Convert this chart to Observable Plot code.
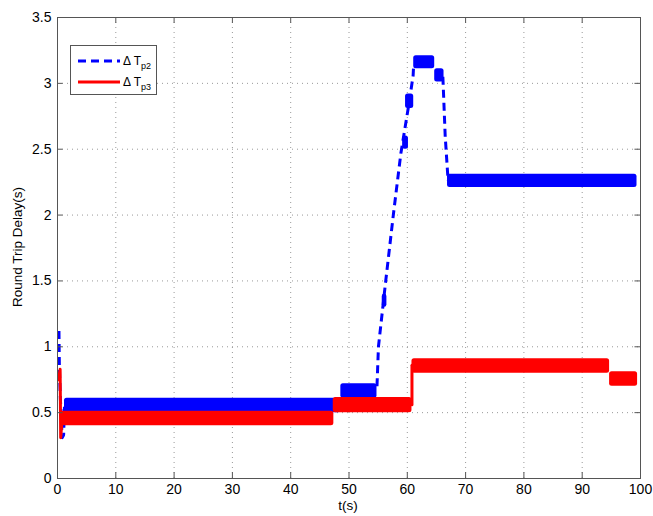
<!DOCTYPE html>
<html><head><meta charset="utf-8">
<script src="https://cdn.jsdelivr.net/npm/d3@7"></script>
<script src="https://cdn.jsdelivr.net/npm/@observablehq/plot@0.6"></script>
<style>body{margin:0;background:#fff;font-family:"Liberation Sans",Arial,sans-serif}</style>
</head><body><div id="chart"></div>
<script>
const xTicks = [0,10,20,30,40,50,60,70,80,90,100];
const yTicks = [0,0.5,1,1.5,2,2.5,3,3.5];

// ΔT_p2 (blue): oscillating bands (t0, t1, lo, hi)
const blueBands = [
  {t0:1.2, t1:48.6, lo:0.50, hi:0.61},
  {t0:48.6, t1:54.8, lo:0.61, hi:0.72},
  {t0:55.7, t1:56.5, lo:1.30, hi:1.40},
  {t0:59.2, t1:60.2, lo:2.50, hi:2.60},
  {t0:59.7, t1:61.1, lo:2.81, hi:2.92},
  {t0:61.1, t1:64.7, lo:3.11, hi:3.21},
  {t0:64.7, t1:66.3, lo:3.01, hi:3.11},
  {t0:66.9, t1:99.4, lo:2.21, hi:2.31}
];
// ΔT_p2 (blue): transitions drawn dashed
const blueDash = [
  {s:"a", t:0.25, v:1.12},{s:"a", t:0.32, v:0.85},{s:"a", t:0.5, v:0.6},
  {s:"a", t:0.8, v:0.31},{s:"a", t:1.05, v:0.33},{s:"a", t:1.2, v:0.55},
  {s:"b", t:54.8, v:0.70},{s:"b", t:55.05, v:1.0},{s:"b", t:56.3, v:1.5},
  {s:"b", t:57.6, v:2.0},{s:"b", t:58.9, v:2.47},{s:"b", t:60.3, v:2.85},
  {s:"b", t:61.0, v:3.06},{s:"b", t:61.1, v:3.15},
  {s:"c", t:66.1, v:3.05},{s:"c", t:66.5, v:2.6},{s:"c", t:67.0, v:2.26}
];
// ΔT_p3 (red): oscillating bands
const redBands = [
  {t0:0.55, t1:47.4, lo:0.40, hi:0.51},
  {t0:47.3, t1:60.8, lo:0.50, hi:0.615},
  {t0:60.8, t1:94.7, lo:0.80, hi:0.91},
  {t0:94.7, t1:99.5, lo:0.70, hi:0.81}
];
// ΔT_p3 (red): transitions drawn solid
const redLines = [
  {s:"a", t:0.2, v:0.75},{s:"a", t:0.45, v:0.83},{s:"a", t:0.55, v:0.31},{s:"a", t:0.7, v:0.40},
  {s:"b", t:60.8, v:0.56},{s:"b", t:60.8, v:0.86}
];
const legendLabels = ["p2", "p3"];

const inner = xTicks.filter(d => d > 0 && d < 100);
const innerY = yTicks.filter(d => d > 0 && d < 3.5);
const axisCol = "#555";
const font = '"Liberation Sans", Arial, sans-serif';

const chart = Plot.plot({
  width: 653, height: 516,
  marginLeft: 57, marginRight: 13, marginTop: 17, marginBottom: 38,
  x: {domain: [0, 100]},
  y: {domain: [0, 3.5]},
  style: {fontFamily: font, fontSize: "14px", color: "#000", background: "#fff"},
  marks: [
    Plot.ruleX(inner, {x: d => d, stroke: "#999", strokeDasharray: "1,4"}),
    Plot.ruleY(innerY, {y: d => d, stroke: "#999", strokeDasharray: "1,4"}),
    Plot.rect(blueBands, {x1: "t0", x2: "t1", y1: "lo", y2: "hi", fill: "#0000ff", rx: 2.5}),
    Plot.line(blueDash, {x: "t", y: "v", z: "s", stroke: "#0000ff", strokeWidth: 3, strokeDasharray: "8,5", strokeLinecap: "butt"}),
    Plot.rect(redBands, {x1: "t0", x2: "t1", y1: "lo", y2: "hi", fill: "#ff0000", rx: 2.5}),
    Plot.line(redLines, {x: "t", y: "v", z: "s", stroke: "#ff0000", strokeWidth: 3}),
    Plot.ruleX(xTicks, {x: d => d, y1: 0, y2: 0.045, stroke: axisCol}),
    Plot.ruleX(xTicks, {x: d => d, y1: 3.455, y2: 3.5, stroke: axisCol}),
    Plot.ruleY(yTicks, {y: d => d, x1: 0, x2: 0.95, stroke: axisCol}),
    Plot.ruleY(yTicks, {y: d => d, x1: 99.05, x2: 100, stroke: axisCol}),
    Plot.frame({stroke: axisCol}),
    Plot.axisX({ticks: xTicks, tickSize: 0, tickPadding: 6, label: null, tickFormat: d => String(d)}),
    Plot.axisY({ticks: yTicks, tickSize: 0, tickPadding: 6, label: null, tickFormat: d => String(d)})
  ]
});
document.getElementById("chart").appendChild(chart);

const svg = d3.select(chart);
svg.append("text").attr("x", 348).attr("y", 510).attr("text-anchor", "middle")
  .style("font-family", font).style("font-size", "13.5px").attr("fill", "#000").text("t(s)");
svg.append("text").attr("transform", "translate(22,247) rotate(-90)").attr("text-anchor", "middle")
  .style("font-family", font).style("font-size", "13.5px").attr("fill", "#000").text("Round Trip Delay(s)");

// legend
const lg = svg.append("g");
lg.append("rect").attr("x", 70.5).attr("y", 45.5).attr("width", 86).attr("height", 49)
  .attr("fill", "#fff").attr("stroke", axisCol);
const entries = [
  {sub: legendLabels[0], col: "#0000ff", dash: "8,5", y: 61},
  {sub: legendLabels[1], col: "#ff0000", dash: null, y: 82}
];
entries.forEach(e => {
  lg.append("line").attr("x1", 78).attr("x2", 120).attr("y1", e.y).attr("y2", e.y)
    .attr("stroke", e.col).attr("stroke-width", 3).attr("stroke-dasharray", e.dash);
  const t = lg.append("text").attr("x", 123).attr("y", e.y + 3.5).attr("text-anchor", "start")
    .style("font-family", font).style("font-size", "12px").attr("fill", "#000");
  t.append("tspan").text("\u0394 T");
  t.append("tspan").attr("dy", 4).style("font-size", "9px").text(e.sub);
});
</script></body></html>
